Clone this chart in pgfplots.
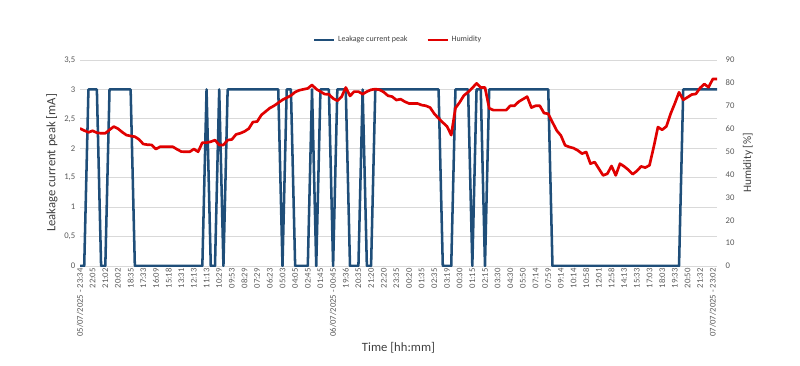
\documentclass[border=0pt]{standalone}
\usepackage{fontspec}
\setmainfont{Carlito}
\usepackage{pgfplots}
\pgfplotsset{compat=1.18}
\usepackage{pgfplotstable}
\definecolor{leakblue}{HTML}{1F4E79}
\definecolor{humred}{HTML}{E00000}
\definecolor{gridgray}{HTML}{D9D9D9}
\definecolor{ticktext}{HTML}{595959}
\definecolor{titletext}{HTML}{404040}
\pgfplotstableread{
i leak hum
0 0 60.1
1 0 59.2
2 3 58.4
3 3 59.1
4 3 58.2
5 0 58.0
6 0 58.0
7 3 59.5
8 3 60.9
9 3 60.0
10 3 58.5
11 3 57.2
12 3 56.8
13 0 56.5
14 0 55.3
15 0 53.3
16 0 53.0
17 0 52.9
18 0 51.1
19 0 52.1
20 0 52.1
21 0 52.1
22 0 52.1
23 0 51.0
24 0 50.0
25 0 49.9
26 0 49.9
27 0 51.1
28 0 49.9
29 0 53.9
30 3 53.9
31 0 54.3
32 0 55.0
33 3 52.9
34 0 52.9
35 3 55.0
36 3 55.3
37 3 57.5
38 3 58.0
39 3 58.8
40 3 60.0
41 3 62.9
42 3 63.1
43 3 66.0
44 3 67.5
45 3 69.0
46 3 70.0
47 3 71.3
48 0 72.6
49 3 73.5
50 3 74.5
51 0 76.0
52 0 76.8
53 0 77.2
54 0 77.6
55 3 79.1
56 0 77.3
57 3 76.2
58 3 75.1
59 3 75.0
60 0 73.2
61 3 72.2
62 3 73.9
63 3 78.0
64 0 74.3
65 0 76.2
66 0 76.2
67 3 75.1
68 0 76.2
69 0 77.0
70 3 77.3
71 3 77.0
72 3 76.0
73 3 74.4
74 3 74.0
75 3 72.5
76 3 72.9
77 3 71.8
78 3 71.0
79 3 71.0
80 3 71.0
81 3 70.3
82 3 70.0
83 3 69.2
84 3 66.5
85 3 64.5
86 0 62.7
87 0 61.0
88 0 57.2
89 3 69.0
90 3 71.5
91 3 74.5
92 3 76.0
93 0 77.8
94 3 79.8
95 3 78.0
96 0 78.0
97 3 68.9
98 3 68.1
99 3 68.1
100 3 68.1
101 3 68.1
102 3 70.0
103 3 70.0
104 3 71.8
105 3 72.9
106 3 74.0
107 3 69.2
108 3 70.0
109 3 70.0
110 3 66.8
111 3 66.5
112 0 62.8
113 0 59.2
114 0 57.0
115 0 52.7
116 0 52.0
117 0 51.5
118 0 50.5
119 0 49.1
120 0 49.8
121 0 44.7
122 0 45.4
123 0 42.5
124 0 39.6
125 0 40.3
126 0 43.7
127 0 39.6
128 0 44.7
129 0 43.5
130 0 42.0
131 0 40.1
132 0 41.5
133 0 43.5
134 0 43.0
135 0 44.0
136 0 52.0
137 0 60.7
138 0 59.5
139 0 61.0
140 0 66.5
141 0 71.0
142 0 75.9
143 3 72.6
144 3 73.7
145 3 74.9
146 3 75.2
147 3 77.8
148 3 79.5
149 3 78.1
150 3 81.7
151 3 81.7
}\datatable
\begin{document}
\begin{tikzpicture}
\useasboundingbox (-60pt,-74.25pt) rectangle (540pt,199.5pt);
\begin{axis}[
  at={(0,0)}, anchor=south west,
  scale only axis, width=477.75pt, height=154.5pt,
  xmin=0, xmax=151, ymin=0, ymax=3.5,
  ytick={0,0.5,1,1.5,2,2.5,3,3.5},
  xtick={0,3,...,150},
  xticklabels={{05/07/2025 - 23:34},22:05,21:02,20:02,18:35,17:33,16:09,15:18,13:31,12:13,11:13,10:29,09:53,08:29,07:29,06:23,05:03,04:05,02:45,01:45,{06/07/2025 - 00:45},19:36,20:35,21:20,22:20,23:35,00:20,01:35,02:35,03:19,00:30,01:15,02:15,03:30,04:30,05:50,07:14,07:59,09:14,10:14,10:58,12:01,12:58,14:13,15:33,17:03,18:03,19:33,20:50,21:32,{07/07/2025 - 23:02}},
  axis line style={draw=none},
  tick style={draw=none},
  ymajorgrids, major grid style={gridgray, line width=0.7pt},
  x tick label style={rotate=90, anchor=east, font=\fontsize{6.5}{7}\selectfont, text=ticktext, inner sep=1.5pt},
  y tick label style={font=\fontsize{6.5}{7}\selectfont, text=ticktext, /pgf/number format/use comma, /pgf/number format/assume math mode=true},
  ylabel={Leakage current peak [mA]},
  ylabel style={at={(axis description cs:-0.044,0.5)}, anchor=center, font=\fontsize{9.5}{11}\selectfont, text=titletext},
  xlabel={Time [hh:mm]},
  xlabel style={at={(axis description cs:0.5,-0.398)}, anchor=center, font=\fontsize{9.5}{11}\selectfont, text=titletext},
]
\addplot[leakblue, line width=1.9pt, line join=round] table[x=i, y=leak] {\datatable};
\end{axis}
\begin{axis}[
  at={(0,0)}, anchor=south west,
  scale only axis, width=477.75pt, height=154.5pt,
  xmin=0, xmax=151, ymin=0, ymax=90,
  ytick={0,10,...,90},
  axis y line*=right, axis x line=none,
  axis line style={draw=none},
  tick style={draw=none},
  y tick label style={font=\fontsize{6.5}{7}\selectfont, text=ticktext, xshift=3pt, /pgf/number format/assume math mode=true},
  ylabel={Humidity [\%]},
  ylabel style={at={(axis description cs:1.0487,0.5)}, anchor=center, rotate=0, font=\fontsize{8.5}{10}\selectfont, text=titletext},
  legend columns=2,
  legend style={at={(0.5,1)}, anchor=center, yshift=15pt, draw=none, fill=none, font=\fontsize{6}{7}\selectfont, text=titletext, /tikz/every even column/.append style={column sep=12pt}},
  legend image code/.code={\draw[#1] (0pt,0pt) -- (15pt,0pt);},
]
\addlegendimage{leakblue, line width=1.9pt}
\addlegendentry{Leakage current peak}
\addplot[humred, line width=2pt, line join=round] table[x=i, y=hum] {\datatable};
\addlegendentry{Humidity}
\end{axis}
\end{tikzpicture}
\end{document}
